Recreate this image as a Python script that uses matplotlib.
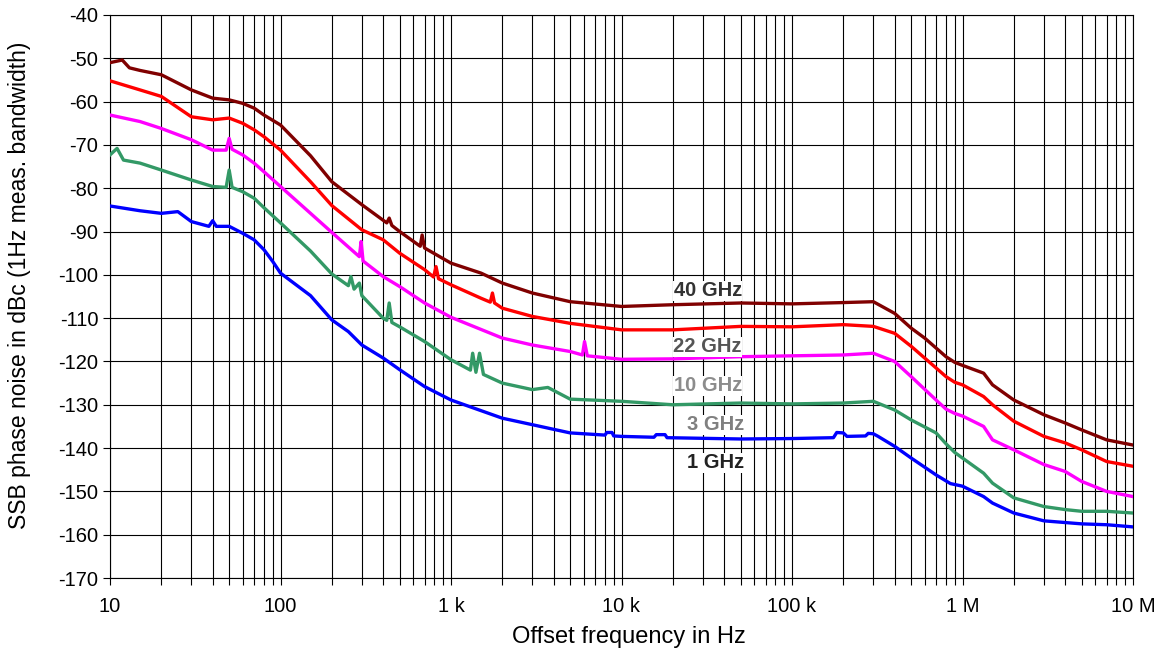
import matplotlib
matplotlib.use("Agg")
import matplotlib.pyplot as plt
from matplotlib.ticker import FixedLocator, FixedFormatter, NullFormatter

plt.rcParams['font.family'] = ['Liberation Sans', 'DejaVu Sans']

# ---- data (offset frequency in Hz, SSB phase noise in dBc/Hz) ----
F40 = [10, 11.8, 13, 15, 20, 30, 40, 50, 60, 70, 80, 100, 150, 200, 300, 420, 434, 450, 500,
       660, 677, 700, 1000, 1500, 2000, 3000, 5000, 10e3, 20e3, 50e3, 100e3, 200e3, 300e3, 400e3,
       500e3, 600e3, 700e3, 800e3, 900e3, 1e6, 1.33e6, 1.5e6, 2e6, 3e6, 4e6, 5e6, 7e6, 10e6]
P40 = [-51.0, -50.4, -52.2, -52.8, -53.8, -57.3, -59.2, -59.6, -60.4, -61.5, -63.1, -65.4,
       -72.5, -78.5, -83.8, -88.0, -86.9, -88.6, -90.0, -93.4, -90.8, -93.8, -97.3, -99.6,
       -101.9, -104.2, -106.2, -107.3, -106.9, -106.5, -106.7, -106.4, -106.2, -108.9, -112.3,
       -114.6, -116.9, -118.9, -120.2, -120.9, -122.7, -125.4, -128.9, -132.3, -134.2, -135.8,
       -138.1, -139.3]

F22 = [10, 15, 20, 30, 40, 50, 60, 70, 80, 100, 150, 200, 300, 400, 500, 700, 790, 817, 845,
       1000, 1500, 1700, 1750, 1800, 2000, 3000, 5000, 10e3, 20e3, 50e3, 100e3, 200e3, 300e3,
       400e3, 500e3, 700e3, 800e3, 900e3, 1e6, 1.33e6, 1.5e6, 2e6, 3e6, 4e6, 5e6, 7e6, 10e6]
P22 = [-55.2, -57.3, -58.8, -63.5, -64.2, -63.8, -65.0, -66.5, -68.1, -71.2, -78.5, -84.0,
       -89.6, -91.9, -95.0, -98.8, -100.5, -98.1, -100.9, -102.3, -105.4, -106.3, -104.2, -106.5,
       -107.7, -109.6, -111.2, -112.7, -112.7, -111.9, -112.0, -111.5, -111.9, -113.5, -116.5,
       -121.5, -123.5, -124.8, -125.4, -128.1, -130.0, -133.8, -137.3, -138.8, -140.4, -143.1,
       -144.2]

F10 = [10, 15, 20, 30, 40, 48, 50, 52, 60, 70, 80, 100, 150, 200, 290, 297, 305, 400, 500, 700,
       1000, 2000, 3000, 5000, 5900, 6070, 6300, 10e3, 20e3, 50e3, 100e3, 200e3, 300e3, 400e3,
       500e3, 700e3, 800e3, 900e3, 1e6, 1.33e6, 1.5e6, 2e6, 3e6, 4e6, 5e6, 7e6, 10e6]
P10 = [-63.1, -64.6, -66.2, -68.8, -71.2, -71.2, -68.5, -71.0, -72.3, -74.2, -76.2, -79.6,
       -85.8, -90.2, -95.8, -92.3, -96.8, -100.4, -102.7, -106.5, -109.8, -114.6, -116.2, -117.7,
       -118.5, -115.4, -118.7, -119.5, -119.4, -118.9, -118.7, -118.5, -118.1, -120.0, -123.5,
       -128.9, -131.0, -132.0, -132.6, -135.0, -138.1, -140.4, -143.8, -145.4, -147.7, -150.0,
       -151.2]

F3 = [10, 11, 12, 15, 20, 30, 40, 48, 50, 52, 60, 70, 80, 100, 150, 200, 250, 259, 270, 290,
      300, 400, 420, 434, 450, 500, 700, 1000, 1300, 1340, 1400, 1470, 1550, 2000, 3000, 3700,
      5000, 10e3, 20e3, 50e3, 100e3, 200e3, 300e3, 400e3, 500e3, 700e3, 800e3, 900e3, 1e6,
      1.33e6, 1.5e6, 2e6, 3e6, 4e6, 5e6, 7e6, 10e6]
P3 = [-72.3, -70.8, -73.5, -74.2, -75.8, -78.1, -79.6, -79.8, -75.8, -79.8, -80.8, -82.3,
      -84.5, -88.0, -94.5, -99.8, -102.5, -100.4, -103.3, -101.9, -104.8, -110.0, -110.5,
      -106.5, -111.0, -112.0, -115.4, -119.6, -122.0, -118.1, -122.5, -118.1, -123.0, -125.0,
      -126.5, -126.0, -128.7, -129.2, -130.0, -129.6, -129.8, -129.6, -129.2, -131.2, -133.5,
      -136.5, -139.0, -141.0, -142.3, -145.8, -148.1, -151.5, -153.5, -154.2, -154.6, -154.6,
      -155.0]

F1 = [10, 15, 20, 25, 30, 38, 40, 42, 50, 60, 70, 80, 90, 100, 150, 200, 250, 300, 400, 500,
      700, 1000, 2000, 3000, 5000, 8000, 8200, 8800, 9000, 10e3, 15500, 16000, 18000, 18500,
      50e3, 100e3, 175e3, 183e3, 200e3, 210e3, 270e3, 280e3, 300e3, 320e3, 400e3, 500e3,
      700e3, 850e3, 1e6, 1.33e6, 1.5e6, 2e6, 3e6, 5e6, 7e6, 10e6]
P1 = [-84.1, -85.2, -85.8, -85.4, -87.7, -88.8, -87.5, -88.8, -88.8, -90.4, -91.9, -94.2,
      -96.9, -99.6, -104.8, -110.4, -113.1, -116.2, -119.2, -121.9, -125.8, -128.9, -133.1,
      -134.6, -136.5, -137.0, -136.4, -136.4, -137.2, -137.3, -137.5, -136.9, -136.9, -137.6,
      -137.9, -137.8, -137.6, -136.4, -136.5, -137.3, -137.2, -136.6, -136.7, -137.3, -139.6,
      -142.3, -146.2, -148.2, -148.8, -151.2, -152.7, -155.0, -156.8, -157.5, -157.7, -158.2]

series = [
    (F40, P40, '#800000'),
    (F22, P22, '#FF0000'),
    (F10, P10, '#FF00FF'),
    (F3, P3, '#339966'),
    (F1, P1, '#0000FF'),
]

# label texts, anchor positions (Hz, dBc) and colours
label_texts = ['40 GHz', '22 GHz', '10 GHz', '3 GHz', '1 GHz']
label_f = [32e3, 32e3, 32e3, 35.7e3, 35.7e3]
label_p = [-103.7, -116.6, -125.6, -134.6, -143.4]
label_colors = ['#333333', '#555555', '#8c8c8c', '#808080', '#222222']

x_ticks = [10, 100, 1e3, 1e4, 1e5, 1e6, 1e7]
x_ticklabels = ['10', '100', '1 k', '10 k', '100 k', '1 M', '10 M']
y_ticks = list(range(-170, -39, 10))

# ---- figure ----
fig = plt.figure(figsize=(11.54, 6.52), dpi=100)
ax = fig.add_axes([110 / 1154, 1 - 578 / 652, (1133 - 110) / 1154, (578 - 15) / 652])

for f, p, c in series:
    ax.plot(f, p, color=c, lw=2.4, solid_joinstyle='round', zorder=3)

ax.set_xscale('log')
ax.set_xlim(10, 1e7)
ax.set_ylim(-170, -40)

ax.xaxis.set_major_locator(FixedLocator(x_ticks))
ax.xaxis.set_major_formatter(FixedFormatter(x_ticklabels))
minors = [m * d for d in [10, 100, 1e3, 1e4, 1e5, 1e6] for m in range(2, 10)]
ax.xaxis.set_minor_locator(FixedLocator(minors))
ax.xaxis.set_minor_formatter(NullFormatter())
ax.yaxis.set_major_locator(FixedLocator(y_ticks))
ax.set_yticklabels([str(v) for v in y_ticks])

ax.grid(True, which='major', axis='both', color='black', lw=0.8, zorder=1)
ax.grid(True, which='minor', axis='x', color='black', lw=0.8, zorder=1)

ax.tick_params(axis='x', which='both', direction='out', length=5, width=0.8,
               pad=8.5, labelsize=14.5)
ax.tick_params(axis='y', which='major', direction='out', length=5, width=0.8,
               pad=3.5, labelsize=14.5)
for s in ax.spines.values():
    s.set_linewidth(0.8)

ax.set_xlabel('Offset frequency in Hz', fontsize=17)
ax.xaxis.label.set_va('center')
ax.xaxis.set_label_coords(0.507, -0.1048)
ax.set_ylabel('SSB phase noise in dBc (1Hz meas. bandwidth)', fontsize=16.5)
ax.yaxis.label.set_va('center')
ax.yaxis.set_label_coords(-0.088, 0.52)

for t, f, p, c in zip(label_texts, label_f, label_p, label_colors):
    ax.text(f, p, t, color=c, fontsize=14.5, fontweight='bold', ha='center', va='center',
            zorder=4, bbox=dict(facecolor='white', edgecolor='none', pad=0.5))

fig.savefig('out.png', dpi=100)
